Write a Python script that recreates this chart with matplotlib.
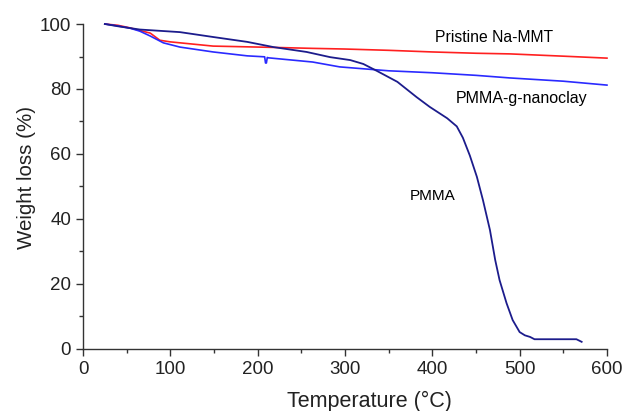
import matplotlib.pyplot as plt
from matplotlib.ticker import MultipleLocator

plt.rcParams['font.family'] = ['Liberation Sans', 'DejaVu Sans']

# TGA curves (temperature in C, weight in %)
pmma_t = [25, 40, 65, 111, 149, 188, 218, 256, 283, 306, 321, 337, 360, 382, 397,
          417, 428, 435, 443, 451, 458, 466, 472, 477, 485, 492, 500, 506, 512,
          517, 540, 565, 571]
pmma_w = [100, 99.3, 98.3, 97.5, 96.0, 94.5, 92.9, 91.4, 89.8, 88.9, 87.7, 85.5,
          82.2, 77.5, 74.5, 71.0, 68.5, 65.0, 59.5, 53.0, 45.8, 36.6, 27.4, 21.2,
          14.1, 8.9, 5.2, 4.2, 3.7, 3.0, 3.0, 3.0, 2.2]

mmt_t = [25, 40, 54, 65, 77, 88, 100, 149, 218, 263, 300, 350, 400, 450, 489, 550, 600]
mmt_w = [100, 99.6, 98.8, 98.0, 97.2, 95.0, 94.5, 93.2, 92.8, 92.5, 92.3, 91.9,
         91.4, 91.0, 90.8, 90.1, 89.5]

clay_t = [25, 40, 54, 65, 77, 92, 111, 149, 188, 208, 209, 210, 211, 212, 263,
          294, 350, 400, 450, 489, 550, 600]
clay_w = [100, 99.4, 98.7, 97.8, 96.3, 94.2, 92.9, 91.4, 90.2, 89.9, 88.0, 88.0,
          89.7, 89.6, 88.3, 86.8, 85.6, 85.0, 84.2, 83.4, 82.4, 81.2]

fig = plt.figure(figsize=(6.26, 4.11), dpi=100)
ax = fig.add_axes([0.1326, 0.1509, 0.837, 0.7907])

ax.plot(mmt_t, mmt_w, color='#ff2020', lw=1.2, clip_on=False)
ax.plot(clay_t, clay_w, color='#2a2aff', lw=1.2, clip_on=False)
ax.plot(pmma_t, pmma_w, color='#1c1c8c', lw=1.3, clip_on=False)

ax.set_xlim(0, 600)
ax.set_ylim(0, 100)
ax.xaxis.set_major_locator(MultipleLocator(100))
ax.xaxis.set_minor_locator(MultipleLocator(50))
ax.yaxis.set_major_locator(MultipleLocator(20))
ax.yaxis.set_minor_locator(MultipleLocator(10))

for side in ['top', 'right']:
    ax.spines[side].set_visible(False)
for side in ['left', 'bottom']:
    ax.spines[side].set_color('#333333')
    ax.spines[side].set_linewidth(1.0)

ax.tick_params(which='major', direction='out', length=5, width=1, colors='#333333',
               labelsize=13.5, labelcolor='#222222')
ax.tick_params(which='minor', direction='out', length=3, width=1, colors='#333333')

ax.set_xlabel('Temperature (°C)', fontsize=15.5, color='#222222', va='center')
ax.set_ylabel('Weight loss (%)', fontsize=14.8, color='#222222', va='center')
ax.xaxis.set_label_coords(0.546, -0.16)
ax.yaxis.set_label_coords(-0.107, 0.529)

ax.text(471, 96, 'Pristine Na-MMT', fontsize=11.3, ha='center', va='center')
ax.text(502, 77, 'PMMA-g-nanoclay', fontsize=11.5, ha='center', va='center')
ax.text(400, 47, 'PMMA', fontsize=11, ha='center', va='center')

fig.savefig('out.png', dpi=100)
